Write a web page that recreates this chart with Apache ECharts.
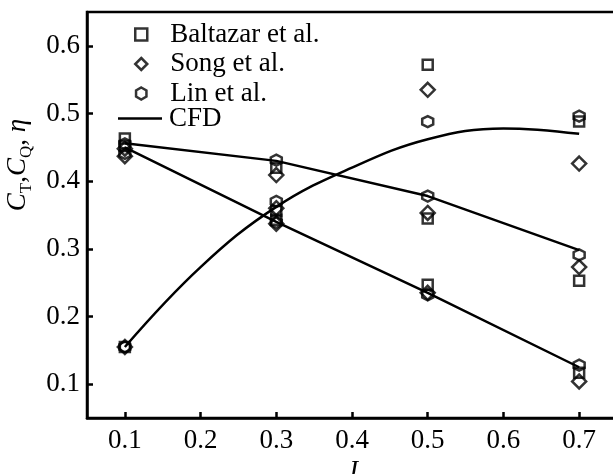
<!DOCTYPE html>
<html>
<head>
<meta charset="utf-8">
<script src="https://cdn.jsdelivr.net/npm/echarts@6/dist/echarts.min.js"></script>
<style>
  html, body { margin: 0; padding: 0; background: #fff; }
  #chart { width: 613px; height: 474px; }
</style>
</head>
<body>
<div id="chart"></div>
<script>
// advance ratios where measurements exist
const jValues = [0.1, 0.3, 0.5, 0.7];

// Baltazar et al.
const baltazarCT = [0.452, 0.343, 0.247, 0.117];
const baltazarCQ = [0.463, 0.420, 0.345, 0.253];
const baltazarEta = [0.155, 0.356, 0.572, 0.488];
// Song et al.
const songCT = [0.437, 0.337, 0.235, 0.104];
const songCQ = [0.448, 0.409, 0.353, 0.273];
const songEta = [0.155, 0.360, 0.535, 0.426];
// Lin et al.
const linCT = [0.441, 0.339, 0.232, 0.128];
const linCQ = [0.455, 0.431, 0.378, 0.291];
const linEta = [0.155, 0.370, 0.488, 0.496];

// CFD
const cfdCT = [0.450, 0.340, 0.235, 0.125];
const cfdCQ = [0.456, 0.430, 0.378, 0.298];
const cfdEtaJ = [0.1, 0.2, 0.3, 0.4, 0.5, 0.6, 0.7];
const cfdEta = [0.155, 0.273, 0.362, 0.420, 0.462, 0.478, 0.470];

const xTicks = [0.1, 0.2, 0.3, 0.4, 0.5, 0.6, 0.7];
const yTicks = [0.1, 0.2, 0.3, 0.4, 0.5, 0.6];

const serif = 'Liberation Serif';
const fs = 27;
const hexagon = 'path://M0,-1L0.866,-0.5L0.866,0.5L0,1L-0.866,0.5L-0.866,-0.5Z';

function pairs(xs, ys) {
  return xs.map((x, i) => [x, ys[i]]);
}
function allPoints(ct, cq, eta) {
  return pairs(jValues, ct).concat(pairs(jValues, cq), pairs(jValues, eta));
}

const markerStyle = { color: 'rgba(255,255,255,0)', borderColor: '#000', borderWidth: 2.5 };
const lineStyle = { color: '#000', width: 2.5 };

const chart = echarts.init(document.getElementById('chart'));

const option = {
  animation: false,
  grid: {
    left: 87, top: 12, width: 530, height: 406,
    outerBoundsMode: 'none', containLabel: false,
    show: true, borderColor: '#000', borderWidth: 2.5, backgroundColor: 'transparent'
  },
  legend: [
    {
      orient: 'vertical', left: 134, top: 21, padding: 0,
      itemWidth: 12, itemHeight: 12, itemGap: 2.5,
      data: [
        { name: 'Baltazar et al.', icon: 'rect' },
        { name: 'Song et al.', icon: 'diamond' },
        { name: 'Lin et al.', icon: hexagon }
      ],
      itemStyle: { color: 'rgba(255,255,255,0)', borderColor: '#000', borderWidth: 2.5 },
      textStyle: { fontFamily: serif, fontSize: fs, color: '#000', lineHeight: 27, padding: [0, 0, 0, 18] }
    },
    {
      orient: 'vertical', left: 118, top: 105, padding: 0,
      itemWidth: 44, itemHeight: 2.5,
      data: [{ name: 'CFD', icon: 'rect' }],
      itemStyle: { color: '#000', borderWidth: 0 },
      textStyle: { fontFamily: serif, fontSize: fs, color: '#000', lineHeight: 27, padding: [0, 0, 0, 2] }
    }
  ],
  xAxis: {
    type: 'value', min: 0.05, max: 0.75,
    name: 'J', nameLocation: 'middle', nameGap: 34,
    nameTextStyle: { fontFamily: serif, fontSize: fs, fontStyle: 'italic', color: '#000' },
    axisLine: { lineStyle: { color: '#000', width: 2.5 } },
    axisTick: { inside: true, length: 6, lineStyle: { color: '#000', width: 2.5 }, customValues: xTicks },
    axisLabel: {
      customValues: xTicks, margin: 9,
      fontFamily: serif, fontSize: fs, color: '#000',
      formatter: v => v.toFixed(1)
    },
    splitLine: { show: false }
  },
  yAxis: {
    type: 'value', min: 0.05, max: 0.65,
    name: '{i|C}{s|T}{n|,}{i|C}{s|Q}{n|, }{i|η}',
    nameLocation: 'middle', nameGap: 41,
    nameTextStyle: {
      fontFamily: serif, fontSize: fs, color: '#000', padding: [0, 0, 0, 100],
      rich: {
        i: { fontFamily: serif, fontSize: fs, fontStyle: 'italic', color: '#000', lineHeight: 30 },
        s: { fontFamily: serif, fontSize: 17, color: '#000', verticalAlign: 'bottom', lineHeight: 34 },
        n: { fontFamily: serif, fontSize: fs, color: '#000', lineHeight: 30 }
      }
    },
    axisLine: { lineStyle: { color: '#000', width: 2.5 } },
    axisTick: { inside: true, length: 6, lineStyle: { color: '#000', width: 2.5 }, customValues: yTicks },
    axisLabel: {
      customValues: yTicks, margin: 7,
      fontFamily: serif, fontSize: fs, color: '#000',
      formatter: v => v.toFixed(1)
    },
    splitLine: { show: false }
  },
  series: [
    { name: 'CFD', type: 'line', symbol: 'none', lineStyle: lineStyle, itemStyle: { color: '#000' }, data: pairs(jValues, cfdCT), z: 1 },
    { name: 'CFD', type: 'line', symbol: 'none', lineStyle: lineStyle, itemStyle: { color: '#000' }, data: pairs(jValues, cfdCQ), z: 1 },
    { name: 'CFD', type: 'line', symbol: 'none', smooth: 0.4, lineStyle: lineStyle, itemStyle: { color: '#000' }, data: pairs(cfdEtaJ, cfdEta), z: 1 },
    { name: 'Baltazar et al.', type: 'scatter', symbol: 'rect', symbolSize: 10, itemStyle: markerStyle, data: allPoints(baltazarCT, baltazarCQ, baltazarEta), z: 3 },
    { name: 'Song et al.', type: 'scatter', symbol: 'diamond', symbolSize: 14, itemStyle: markerStyle, data: allPoints(songCT, songCQ, songEta), z: 3 },
    { name: 'Lin et al.', type: 'scatter', symbol: hexagon, symbolSize: 11, itemStyle: markerStyle, data: allPoints(linCT, linCQ, linEta), z: 3 }
  ]
};

chart.setOption(option);
</script>
</body>
</html>
